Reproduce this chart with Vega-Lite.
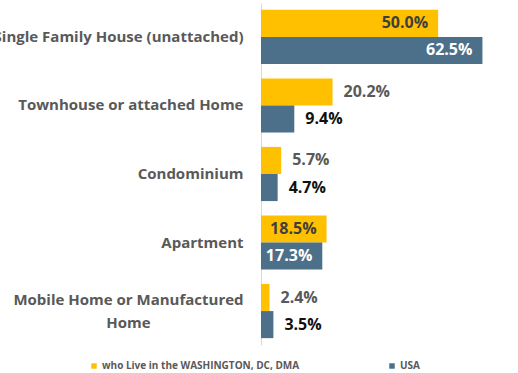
{
  "$schema": "https://vega.github.io/schema/vega-lite/v6.json",
  "autosize": {"type": "none"},
  "padding": {"left": 261, "top": 3, "right": 9, "bottom": 28},
  "width": 248,
  "height": 342,
  "background": "white",
  "config": {"view": {"stroke": null}},
  "data": {
    "values": [
      {"category": "Single Family House (unattached)", "series": "who Live in the WASHINGTON, DC, DMA", "value": 0.500},
      {"category": "Single Family House (unattached)", "series": "USA", "value": 0.625},
      {"category": "Townhouse or attached Home", "series": "who Live in the WASHINGTON, DC, DMA", "value": 0.202},
      {"category": "Townhouse or attached Home", "series": "USA", "value": 0.094},
      {"category": "Condominium", "series": "who Live in the WASHINGTON, DC, DMA", "value": 0.057},
      {"category": "Condominium", "series": "USA", "value": 0.047},
      {"category": "Apartment", "series": "who Live in the WASHINGTON, DC, DMA", "value": 0.185},
      {"category": "Apartment", "series": "USA", "value": 0.173},
      {"category": "Mobile Home or Manufactured Home", "series": "who Live in the WASHINGTON, DC, DMA", "value": 0.024},
      {"category": "Mobile Home or Manufactured Home", "series": "USA", "value": 0.035}
    ]
  },
  "encoding": {
    "y": {
      "field": "category",
      "type": "nominal",
      "sort": null,
      "scale": {"paddingInner": 0.21, "paddingOuter": 0.1},
      "axis": {
        "title": null,
        "ticks": false,
        "domain": true,
        "domainColor": "#d9d9d9",
        "domainWidth": 1,
        "labelFont": "Open Sans",
        "labelFontWeight": "bold",
        "labelFontSize": 15,
        "labelColor": "#595959",
        "labelLimit": 400,
        "labelLineHeight": 23,
        "labelPadding": {"condition": {"test": "datum.value == 'Mobile Home or Manufactured Home'", "value": 133}, "value": 18},
        "labelOffset": {"condition": {"test": "datum.value == 'Mobile Home or Manufactured Home'", "value": -11}, "value": 0},
        "labelAlign": {"condition": {"test": "datum.value == 'Mobile Home or Manufactured Home'", "value": "center"}, "value": "right"},
        "labelExpr": "datum.value == 'Mobile Home or Manufactured Home' ? ['Mobile Home or Manufactured', 'Home'] : datum.value"
      }
    },
    "yOffset": {
      "field": "series",
      "type": "nominal",
      "sort": ["who Live in the WASHINGTON, DC, DMA", "USA"],
      "scale": {"paddingInner": 0, "paddingOuter": 0}
    },
    "x": {
      "field": "value",
      "type": "quantitative",
      "scale": {"domain": [0, 0.7], "nice": false},
      "axis": null
    }
  },
  "layer": [
    {
      "mark": {"type": "bar"},
      "encoding": {
        "color": {
          "field": "series",
          "type": "nominal",
          "sort": ["who Live in the WASHINGTON, DC, DMA", "USA"],
          "scale": {"domain": ["who Live in the WASHINGTON, DC, DMA", "USA"], "range": ["#FFC000", "#4C7089"]},
          "legend": {
            "title": null,
            "orient": "none",
            "direction": "horizontal",
            "legendX": -172,
            "legendY": 358,
            "symbolType": "square",
            "symbolSize": 30,
            "symbolStrokeWidth": 0,
            "labelFont": "Open Sans",
            "labelFontSize": 10,
            "labelFontWeight": "bold",
            "labelColor": "#595959",
            "labelOffset": 3,
            "labelLimit": 300,
            "columnPadding": 87
          }
        }
      }
    },
    {
      "transform": [{"filter": "datum.category == 'Single Family House (unattached)' || datum.category == 'Apartment'"}],
      "mark": {"type": "text", "align": "right", "baseline": "middle", "dx": -10, "font": "Open Sans", "fontWeight": "bold", "fontSize": 16},
      "encoding": {
        "text": {"field": "value", "type": "quantitative", "format": ".1%"},
        "color": {"condition": {"test": "datum.series == 'USA'", "value": "#ffffff"}, "value": "#3f3f3f"}
      }
    },
    {
      "transform": [{"filter": "datum.category != 'Single Family House (unattached)' && datum.category != 'Apartment'"}],
      "mark": {"type": "text", "align": "left", "baseline": "middle", "dx": 11, "font": "Open Sans", "fontWeight": "bold", "fontSize": 16},
      "encoding": {
        "text": {"field": "value", "type": "quantitative", "format": ".1%"},
        "color": {"condition": {"test": "datum.series == 'USA'", "value": "#111111"}, "value": "#595959"}
      }
    }
  ]
}
